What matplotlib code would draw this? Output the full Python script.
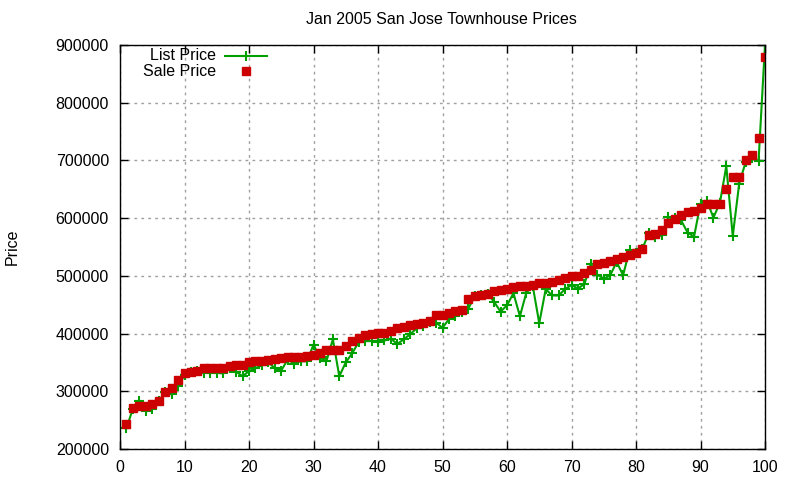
import matplotlib
matplotlib.use('Agg')
import matplotlib.pyplot as plt
from matplotlib.lines import Line2D


index = list(range(1, 101))

list_price = [
    236000, 270000, 284000, 265000, 269000, 283000, 298000, 295000, 309000, 328000,
    333000, 336000, 332000, 332000, 332000, 331000, 340000, 334000, 326000, 335000,
    340000, 345000, 350000, 340000, 336000, 355000, 348000, 352000, 352000, 381000,
    358000, 352000, 390000, 326000, 350000, 366000, 385000, 387000, 387000, 385000,
    388000, 391000, 382000, 390000, 399000, 409000, 413000, 420000, 419000, 410000,
    425000, 430000, 438000, 443000, 465000, 466000, 469000, 455000, 438000, 449000,
    470000, 430000, 471000, 482000, 418000, 477000, 466000, 466000, 477000, 484000,
    478000, 486000, 520000, 502000, 495000, 501000, 524000, 501000, 545000, 540000,
    547000, 575000, 568000, 570000, 602000, 600000, 596000, 575000, 568000, 625000,
    630000, 601000, 626000, 690000, 569000, 660000, 697000, 705000, 699000, 900000,
]

sale_price = [
    244000, 271000, 274000, 274000, 278000, 284000, 299000, 306000, 319000, 331000,
    334000, 336000, 341000, 341000, 341000, 341000, 343000, 346000, 346000, 350000,
    352000, 352000, 354000, 356000, 358000, 360000, 360000, 360000, 361000, 363000,
    366000, 371000, 372000, 372000, 379000, 387000, 392000, 397000, 400000, 401000,
    401000, 404000, 409000, 412000, 414000, 416000, 418000, 422000, 432000, 432000,
    436000, 439000, 441000, 460000, 465000, 466000, 469000, 473000, 475000, 477000,
    480000, 482000, 483000, 485000, 487000, 488000, 490000, 492000, 497000, 500000,
    500000, 505000, 510000, 520000, 522000, 526000, 530000, 533000, 537000, 540000,
    547000, 571000, 573000, 580000, 591000, 599000, 606000, 610000, 613000, 617000,
    625000, 625000, 625000, 651000, 671000, 671000, 700000, 709000, 739000, 880000,
]

x_ticks = list(range(0, 101, 10))
y_ticks = list(range(200000, 900001, 100000))

GREEN = '#00a000'
RED = '#cc0000'


def px(x, y):
    # pixel position (from top-left) -> figure fraction
    return x / 800, 1 - y / 480


if __name__ == '__main__':
    plt.rcParams['font.family'] = ['Liberation Sans', 'DejaVu Sans']
    plt.rcParams['font.size'] = 11.5

    fig = plt.figure(figsize=(8, 4.8), dpi=100)
    ax = fig.add_axes([120 / 800, 1 - 449 / 480, 645 / 800, 404 / 480])

    ax.plot(index, list_price, color=GREEN, linewidth=1.5, marker='+',
            markersize=7, markeredgewidth=1.5)
    ax.plot(index, sale_price, color=RED, linestyle='none', marker='s',
            markersize=5.5)

    ax.set_xlim(0, 100)
    ax.set_ylim(200000, 900000)
    ax.set_xticks(x_ticks)
    ax.set_yticks(y_ticks)
    ax.ticklabel_format(style='plain', axis='y')
    ax.tick_params(direction='in', length=6, top=True, right=True, width=1, pad=8)
    ax.grid(color='#a0a0a0', linestyle=(0, (2, 3)), linewidth=1)
    for spine in ax.spines.values():
        spine.set_linewidth(1)

    fig.text(*px(441, 20), 'Jan 2005 San Jose Townhouse Prices', ha='center', va='center')
    fig.text(*px(12, 247), 'Price', rotation=90, ha='center', va='center')

    # gnuplot-style key: right-aligned text, sample on the right
    fig.text(*px(216, 56), 'List Price', ha='right', va='center')
    fig.text(*px(216, 71), 'Sale Price', ha='right', va='center')
    x0, y0 = px(225, 56)
    x1, _ = px(267, 56)
    fig.add_artist(Line2D([x0, x1], [y0, y0], color=GREEN, linewidth=1.5,
                          transform=fig.transFigure))
    xm, ym = px(246, 56)
    fig.add_artist(Line2D([xm], [ym], color=GREEN, marker='+', markersize=7,
                          markeredgewidth=1.5, transform=fig.transFigure))
    xs, ys = px(246, 71)
    fig.add_artist(Line2D([xs], [ys], color=RED, marker='s', markersize=5.5,
                          linestyle='none', transform=fig.transFigure))

    fig.savefig('out.png', dpi=100)
